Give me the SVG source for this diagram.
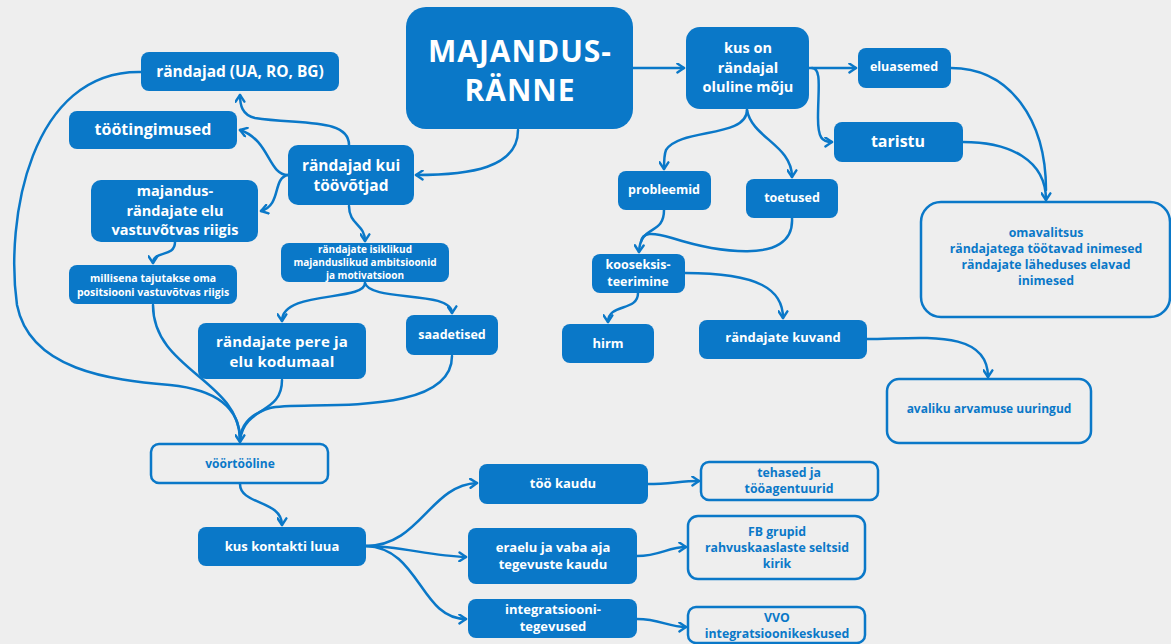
<svg xmlns="http://www.w3.org/2000/svg" width="1171" height="644" viewBox="0 0 1171 644">
<style>
.f{fill:#0a78c8;}
.o{fill:#eeeeee;stroke:#0a78c8;stroke-width:2.5;}
.t{font-family:"Open Sans","Liberation Sans",sans-serif;font-weight:700;fill:#ffffff;text-anchor:middle;}
.b{font-family:"Open Sans","Liberation Sans",sans-serif;font-weight:700;fill:#0a78c8;text-anchor:middle;}
.c path{fill:none;stroke:#0a78c8;stroke-width:2.5;stroke-linecap:round;}
.a{marker-end:url(#ah);}
</style>
<defs>
<marker id="ah" viewBox="0 0 10 10" refX="8" refY="5" markerWidth="11" markerHeight="11" markerUnits="userSpaceOnUse" orient="auto">
<path d="M2,1 L8,5 L2,9" fill="none" stroke="#0a78c8" stroke-width="2.2" stroke-linecap="round" stroke-linejoin="round"/>
</marker>
</defs>
<rect width="1171" height="644" fill="#eeeeee"/>
<g class="c" id="connectors">
<path class="a" d="M518,130 C518,168 470,175 416,175"/>
<path class="a" d="M633,68 L684,68"/>
<path class="a" d="M809,68 L856,68"/>
<path class="a" d="M812,68 C822,68 818,90 818,118 C818,138 822,142 832,142"/>
<path class="a" d="M747,110 C747,138 680,128 666,150 C664,155 664,162 664,169"/>
<path class="a" d="M747,110 C752,138 792,145 792,177"/>
<path d="M951,68 C1010,68 1046,120 1046,190"/>
<path class="a" d="M963,142 C1010,142 1046,160 1046,200"/>
<path class="a" d="M664,210 C664,236 640,224 639,252"/>
<path d="M792,218 C795,268 710,250 672,238 C652,232 642,232 641,242"/>
<path class="a" d="M685,273 C760,273 783,290 783,318"/>
<path class="a" d="M638,293 C638,312 608,303 608,322"/>
<path class="a" d="M867,339 C920,339 988,328 988,377"/>
<path class="a" d="M349,145 C349,118 300,125 255,118 C242,115 240,105 240,95"/>
<path class="a" d="M288,175 C268,175 270,140 240,130"/>
<path class="a" d="M288,175 C272,178 282,205 261,211"/>
<path class="a" d="M349,206 C349,225 365,224 365,241"/>
<path class="a" d="M175,242 C175,258 153,250 153,263"/>
<path class="a" d="M365,283 C365,302 282,290 282,321"/>
<path class="a" d="M365,283 C370,302 452,290 452,313"/>
<path d="M141,72 C30,70 5,220 17,305 C30,370 110,380 170,385 C220,390 240,410 240,440"/>
<path d="M153,305 C153,370 240,380 240,440"/>
<path d="M282,380 C282,415 245,405 240,440"/>
<path class="a" d="M452,356 C452,420 300,400 270,408 C250,414 240,425 240,442"/>
<path class="a" d="M240,484 C240,505 282,500 282,525"/>
<path class="a" d="M366,546 C420,546 430,485 477,483"/>
<path class="a" d="M366,546 C400,546 430,556 466,557"/>
<path class="a" d="M366,546 C420,548 420,619 466,619"/>
<path class="a" d="M648,484 C670,484 680,481 699,481"/>
<path class="a" d="M637,556 C660,556 668,547 686,547"/>
<path class="a" d="M637,619 C660,619 668,627 686,627"/>
</g>
<g id="n-main"><rect class="f" x="406" y="7" width="227" height="122" rx="20"/><text class="t" x="520" y="62" font-size="30" letter-spacing="1">MAJANDUS-</text><text class="t" x="520" y="101" font-size="30" letter-spacing="1">RÄNNE</text></g>
<g id="n-randajad"><rect class="f" x="141" y="52" width="198" height="39" rx="8"/><text class="t" x="240" y="77" font-size="15.5">rändajad (UA, RO, BG)</text></g>
<g id="n-tootingimused"><rect class="f" x="69" y="111" width="168" height="38" rx="8"/><text class="t" x="153" y="135" font-size="16">töötingimused</text></g>
<g id="n-toovotjad"><rect class="f" x="288" y="145" width="126" height="60" rx="10"/><text class="t" x="351" y="171" font-size="15.5">rändajad kui</text><text class="t" x="351" y="191" font-size="15.5">töövõtjad</text></g>
<g id="n-elu"><rect class="f" x="91" y="180" width="167" height="62" rx="10"/><text class="t" x="175" y="196" font-size="14.5">majandus-</text><text class="t" x="175" y="215.5" font-size="14.5">rändajate elu</text><text class="t" x="175" y="235" font-size="14.5">vastuvõtvas riigis</text></g>
<g id="n-millisena"><rect class="f" x="69" y="265" width="168" height="39" rx="8"/><text class="t" x="153" y="282" font-size="10.5">millisena tajutakse oma</text><text class="t" x="153" y="296" font-size="10.5">positsiooni vastuvõtvas riigis</text></g>
<g id="n-isiklikud"><rect class="f" x="281" y="243" width="168" height="39" rx="8"/><text class="t" x="365" y="253" font-size="10">rändajate isiklikud</text><text class="t" x="365" y="266" font-size="10">majanduslikud ambitsioonid</text><text class="t" x="365" y="279" font-size="10">ja motivatsioon</text></g>
<g id="n-pere"><rect class="f" x="198" y="323" width="168" height="56" rx="8"/><text class="t" x="282" y="347" font-size="15" letter-spacing="0.2">rändajate pere ja</text><text class="t" x="282" y="366.5" font-size="15" letter-spacing="0.2">elu kodumaal</text></g>
<g id="n-saadetised"><rect class="f" x="406" y="315" width="92" height="40" rx="8"/><text class="t" x="452" y="339" font-size="12.5">saadetised</text></g>
<g id="n-voortooline"><rect class="o" x="151" y="444" width="177" height="39" rx="8"/><text class="b" x="240" y="468" font-size="12">vöörtööline</text></g>
<g id="n-kontakt"><rect class="f" x="198" y="527" width="168" height="39" rx="8"/><text class="t" x="282" y="551" font-size="13">kus kontakti luua</text></g>
<g id="n-moju"><rect class="f" x="686" y="27" width="123" height="82" rx="14"/><text class="t" x="748" y="53" font-size="14.5">kus on</text><text class="t" x="748" y="72.5" font-size="14.5">rändajal</text><text class="t" x="748" y="92" font-size="14.5">oluline mõju</text></g>
<g id="n-eluasemed"><rect class="f" x="858" y="48" width="93" height="40" rx="8"/><text class="t" x="904" y="71" font-size="12.5">eluasemed</text></g>
<g id="n-taristu"><rect class="f" x="834" y="122" width="129" height="40" rx="8"/><text class="t" x="898" y="147" font-size="16">taristu</text></g>
<g id="n-omavalitsus"><rect class="o" x="921" y="202" width="249" height="115" rx="20"/><text class="b" x="1046" y="237" font-size="12.3">omavalitsus</text><text class="b" x="1046" y="253" font-size="12.3">rändajatega töötavad inimesed</text><text class="b" x="1046" y="269" font-size="12.3">rändajate läheduses elavad</text><text class="b" x="1046" y="285" font-size="12.3">inimesed</text></g>
<g id="n-probleemid"><rect class="f" x="618" y="171" width="93" height="39" rx="8"/><text class="t" x="664" y="194" font-size="12.5">probleemid</text></g>
<g id="n-toetused"><rect class="f" x="746" y="179" width="92" height="39" rx="8"/><text class="t" x="792" y="202" font-size="12.5">toetused</text></g>
<g id="n-kooseksis"><rect class="f" x="592" y="254" width="93" height="39" rx="8"/><text class="t" x="638" y="269" font-size="12.5">kooseksis-</text><text class="t" x="638" y="286" font-size="12.5">teerimine</text></g>
<g id="n-hirm"><rect class="f" x="562" y="324" width="92" height="39" rx="8"/><text class="t" x="608" y="348" font-size="13">hirm</text></g>
<g id="n-kuvand"><rect class="f" x="699" y="320" width="168" height="39" rx="8"/><text class="t" x="783" y="342" font-size="13">rändajate kuvand</text></g>
<g id="n-avaliku"><rect class="o" x="887" y="379" width="204" height="64" rx="12"/><text class="b" x="989" y="413" font-size="12">avaliku arvamuse uuringud</text></g>
<g id="n-tookaudu"><rect class="f" x="479" y="464" width="169" height="40" rx="8"/><text class="t" x="563" y="488" font-size="13">töö kaudu</text></g>
<g id="n-tehased"><rect class="o" x="701" y="462" width="177" height="38" rx="8"/><text class="b" x="789" y="477" font-size="12.3">tehased ja</text><text class="b" x="789" y="493" font-size="12.3">tööagentuurid</text></g>
<g id="n-eraelu"><rect class="f" x="468" y="528" width="169" height="56" rx="8"/><text class="t" x="553" y="552" font-size="13">eraelu ja vaba aja</text><text class="t" x="553" y="569" font-size="13">tegevuste kaudu</text></g>
<g id="n-fb"><rect class="o" x="688" y="516" width="177" height="63" rx="10"/><text class="b" x="777" y="536" font-size="12.3">FB grupid</text><text class="b" x="777" y="552" font-size="12.3">rahvuskaaslaste seltsid</text><text class="b" x="777" y="568" font-size="12.3">kirik</text></g>
<g id="n-integratsioon"><rect class="f" x="468" y="599" width="169" height="39" rx="8"/><text class="t" x="553" y="613.5" font-size="13">integratsiooni-</text><text class="t" x="553" y="630.5" font-size="13">tegevused</text></g>
<g id="n-vvo"><rect class="o" x="688" y="607" width="177" height="36" rx="8"/><text class="b" x="777" y="622" font-size="12.3">VVO</text><text class="b" x="777" y="638" font-size="12.3">integratsioonikeskused</text></g>
</svg>
